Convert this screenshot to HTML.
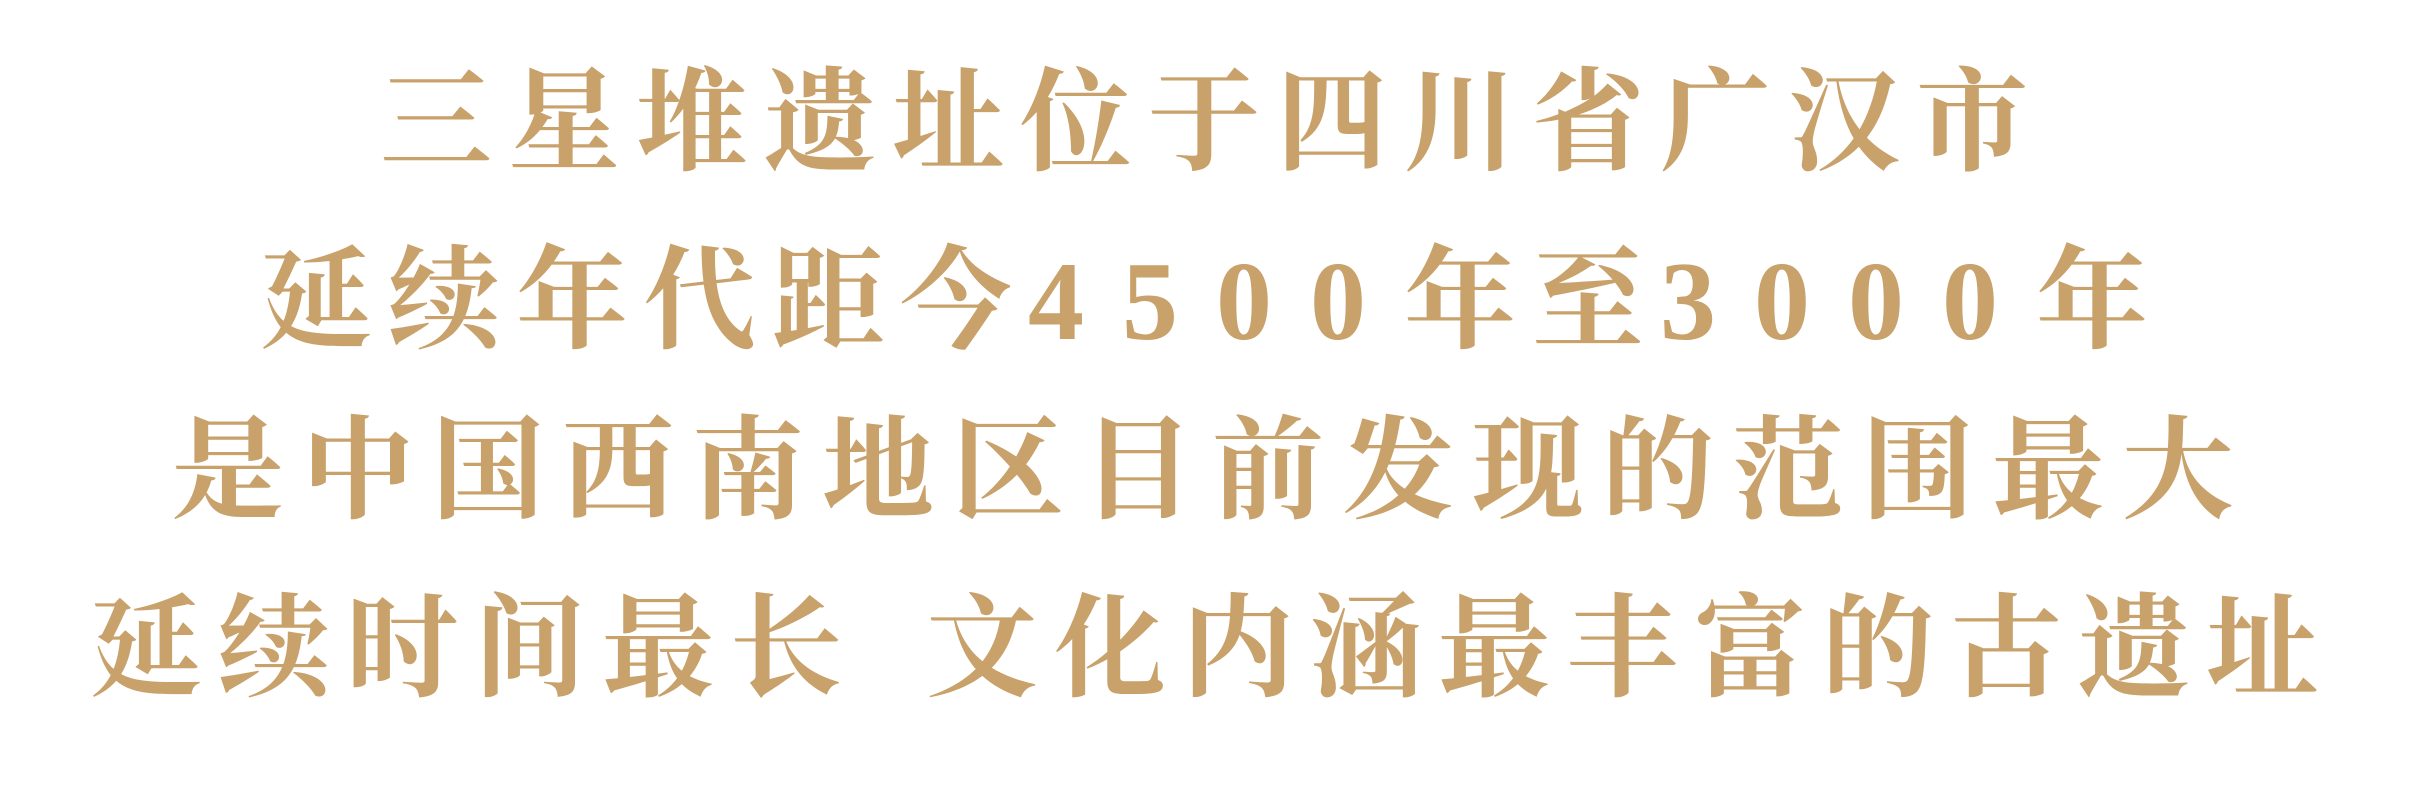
<!DOCTYPE html>
<html><head><meta charset="utf-8">
<style>
html,body{margin:0;padding:0;background:#fff;}
body{width:2424px;height:792px;position:relative;overflow:hidden;}
.line{position:absolute;left:0;width:2424px;text-align:center;color:#c8a16b;
font-family:"Liberation Serif","Noto Serif CJK SC",serif;font-weight:700;font-size:112px;
line-height:120px;letter-spacing:16px;white-space:pre;}
.line span.d{letter-spacing:38px;}
.line span.sp{letter-spacing:40px;}
</style></head><body>
<div class="line" style="top:64px">三星堆遗址位于四川省广汉市</div>
<div class="line" style="top:242px">延续年代距今<span class="d">4500</span>年至<span class="d">3000</span>年</div>
<div class="line" style="top:412px;letter-spacing:18px">是中国西南地区目前发现的范围最大</div>
<div class="line" style="top:590px">延续时间最长<span class="sp"> </span>文化内涵最丰富的古遗址</div>
</body></html>
